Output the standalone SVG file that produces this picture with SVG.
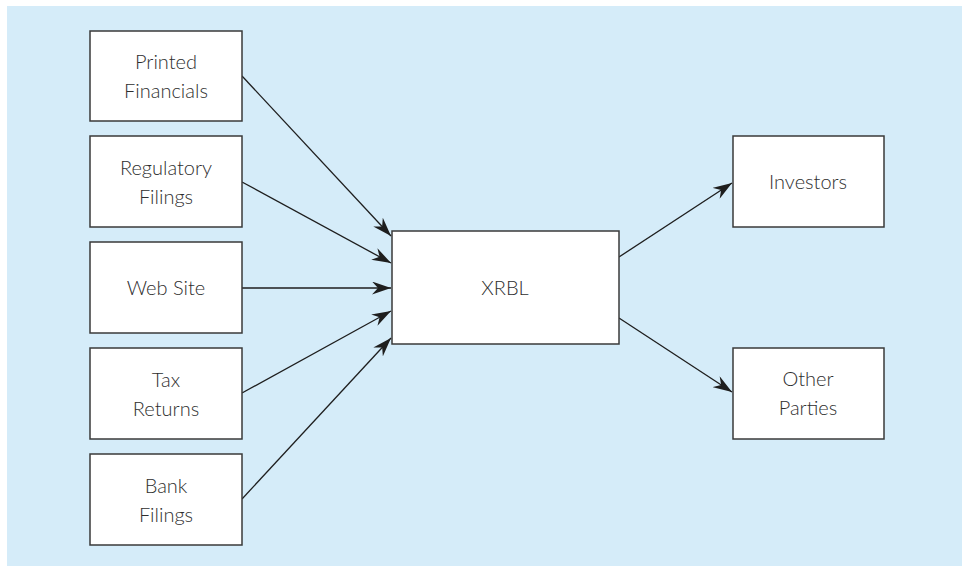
<svg xmlns="http://www.w3.org/2000/svg" width="962" height="566" viewBox="0 0 962 566">
<defs>
<style>
.box{fill:#ffffff;stroke:#3a3a3a;stroke-width:1.5}
.lbl{font-family:Lato,"Open Sans",sans-serif;font-weight:300;font-size:20px;fill:#2e2e2e;text-anchor:middle}
.conn{stroke:#1e1e1e;stroke-width:1.3;fill:none;marker-end:url(#ah)}
</style>
<marker id="ah" markerUnits="userSpaceOnUse" markerWidth="20" markerHeight="13" viewBox="0 0 20 13" refX="19" refY="6.5" orient="auto">
<path d="M0,0 L19,6.5 L0,13 L6,6.5 Z" fill="#1e1e1e"/>
</marker>
</defs>
<rect x="0" y="0" width="962" height="566" fill="#ffffff"/>
<rect x="7" y="6" width="955" height="560" fill="#d5ecf9"/>
<g id="connectors">
<line class="conn" x1="242" y1="76" x2="391" y2="236"/>
<line class="conn" x1="242" y1="182" x2="391" y2="263"/>
<line class="conn" x1="242" y1="288" x2="391" y2="288"/>
<line class="conn" x1="242" y1="393" x2="391" y2="311"/>
<line class="conn" x1="242" y1="499" x2="391" y2="338"/>
<line class="conn" x1="619" y1="257" x2="732" y2="183"/>
<line class="conn" x1="619" y1="318" x2="732" y2="392"/>
</g>
<g id="printed">
<rect class="box" x="90" y="31" width="152" height="90"/>
<text class="lbl" x="166" y="69">Printed</text>
<text class="lbl" x="166" y="98">Financials</text>
</g>
<g id="regulatory">
<rect class="box" x="90" y="136" width="152" height="91"/>
<text class="lbl" x="166" y="175">Regulatory</text>
<text class="lbl" x="166" y="204">Filings</text>
</g>
<g id="website">
<rect class="box" x="90" y="242" width="152" height="91"/>
<text class="lbl" x="166" y="295">Web Site</text>
</g>
<g id="tax">
<rect class="box" x="90" y="348" width="152" height="91"/>
<text class="lbl" x="166" y="387">Tax</text>
<text class="lbl" x="166" y="416">Returns</text>
</g>
<g id="bank">
<rect class="box" x="90" y="454" width="152" height="91"/>
<text class="lbl" x="166" y="493">Bank</text>
<text class="lbl" x="166" y="522">Filings</text>
</g>
<g id="xrbl">
<rect class="box" x="392" y="231" width="227" height="113"/>
<text class="lbl" x="505" y="295">XRBL</text>
</g>
<g id="investors">
<rect class="box" x="733" y="136" width="151" height="91"/>
<text class="lbl" x="808" y="189">Investors</text>
</g>
<g id="other">
<rect class="box" x="733" y="348" width="151" height="91"/>
<text class="lbl" x="808" y="386">Other</text>
<text class="lbl" x="808" y="415">Parties</text>
</g>
</svg>
